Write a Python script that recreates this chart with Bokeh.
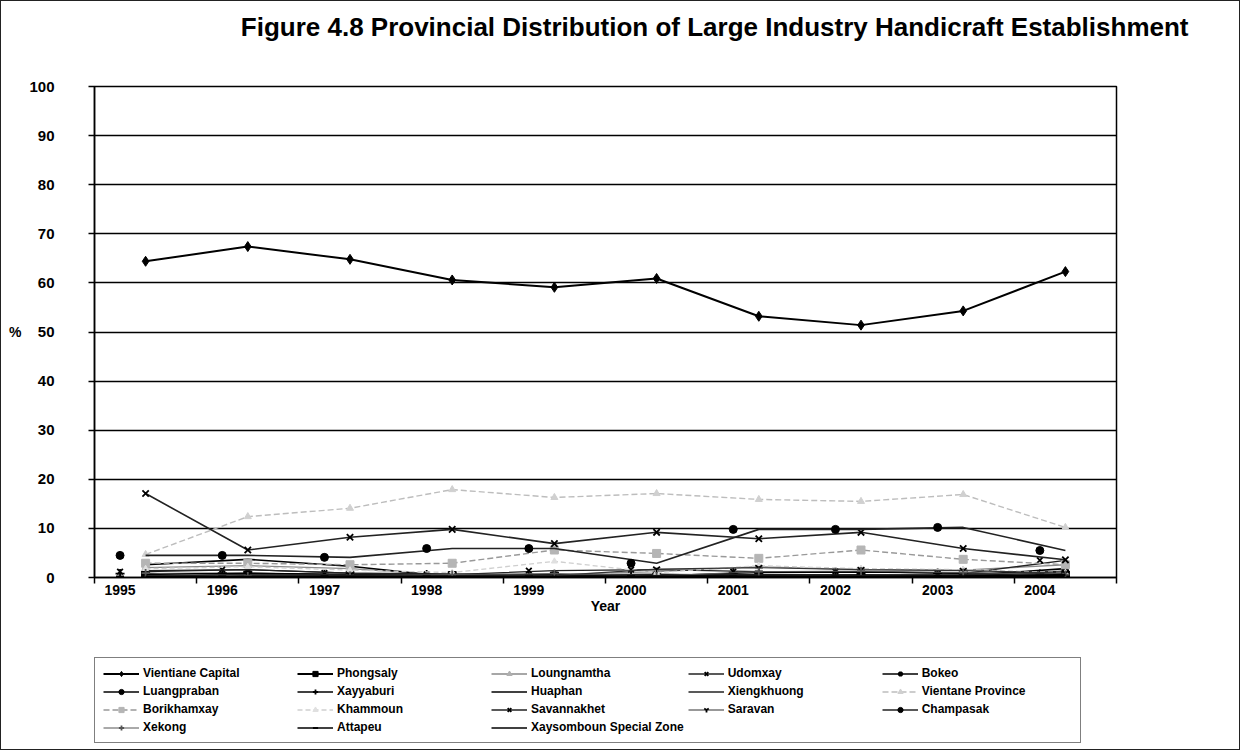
from bokeh.plotting import figure
from bokeh.layouts import column
from bokeh.models import Range1d, FixedTicker, Legend, LegendItem, Title
from bokeh.embed import file_html
from bokeh.resources import INLINE

# Share of large handicraft establishments by province (%), 1995-2004
years = ["1995", "1996", "1997", "1998", "1999", "2000", "2001", "2002", "2003", "2004"]

vientiane_capital = [64.4, 67.4, 64.8, 60.6, 59.1, 60.9, 53.2, 51.4, 54.3, 62.3]
phongsaly = [0.5, 0.5, 0.4, 0.4, 0.3, 0.4, 0.5, 0.4, 0.4, 0.5]
loungnamtha = [2.0, 2.4, 1.8, 0.4, 0.6, 1.2, 2.2, 1.6, 1.5, 2.6]
udomxay = [1.2, 1.6, 0.9, 0.6, 1.4, 1.6, 1.2, 1.2, 0.8, 3.5]
bokeo = [0.2, 0.3, 0.3, 0.2, 0.3, 0.2, 0.3, 0.2, 0.3, 0.2]
luangpraban = [0.6, 0.8, 0.6, 0.3, 0.5, 0.6, 0.4, 0.5, 0.4, 1.2]
xayyaburi = [0.8, 0.9, 0.6, 0.6, 0.6, 0.4, 1.0, 1.1, 0.9, 0.7]
huaphan = [2.6, 3.7, 2.3, 0.1, 0.3, 0.4, 0.3, 0.3, 0.4, 1.8]
xiengkhuong = [1.4, 1.6, 0.9, 0.7, 0.5, 0.6, 0.5, 0.4, 0.5, 1.3]
vientane_province = [4.7, 12.4, 14.1, 17.9, 16.3, 17.1, 15.9, 15.5, 16.9, 10.2]
borikhamxay = [2.9, 2.9, 2.6, 2.9, 5.6, 4.9, 3.9, 5.6, 3.7, 2.6]
khammoun = [1.8, 2.2, 1.5, 1.0, 3.3, 1.0, 2.4, 1.8, 1.6, 1.0]
savannakhet = [17.1, 5.6, 8.2, 9.8, 6.9, 9.2, 7.9, 9.2, 5.9, 3.6]
saravan = [0.4, 0.6, 0.5, 0.3, 0.4, 1.7, 2.0, 1.6, 1.4, 0.9]
champasak = [4.5, 4.5, 4.1, 5.9, 5.9, 2.9, 9.8, 9.8, 10.2, 5.5]
xekong = [0.9, 0.3, 0.4, 0.6, 0.8, 0.3, 1.2, 1.3, 1.0, 0.6]
attapeu = [0.2, 0.2, 0.3, 0.2, 0.2, 0.3, 0.2, 0.2, 0.3, 0.4]
xaysomboun = [0.1, 0.1, 0.1, 0.1, 0.1, 0.1, 0.1, 0.1, 0.1, 0.6]

y_ticks = [0, 10, 20, 30, 40, 50, 60, 70, 80, 90, 100]

FONT = "Liberation Sans"

# each year occupies one unit; lines sit mid-slot, labels (and some markers) sit left of it
x_mid = [i + 0.5 for i in range(len(years))]
x_left = [i + 0.25 for i in range(len(years))]

W = 1238
H_MAIN = 628     # chart with its axes
H_KEY = 120      # strip holding the key
LEFT, RIGHT = 93, 1115

p = figure(width=W, height=H_MAIN, output_backend="svg", toolbar_location=None,
           x_range=Range1d(0, len(years)), y_range=Range1d(0, 100),
           min_border_left=LEFT, min_border_right=W - RIGHT,
           min_border_top=85, min_border_bottom=H_MAIN - 576,
           background_fill_color="white", border_fill_color="white")
p.outline_line_color = "black"
p.outline_line_width = 1.5

# empty spacer title keeps the real title up near the top edge
p.add_layout(Title(text=" ", text_font_size="10px", standoff=32), "above")
p.add_layout(Title(text="Figure 4.8 Provincial Distribution of Large Industry Handicraft Establishment",
                   align="right", offset=-72, standoff=0,
                   text_font=FONT, text_font_size="26px", text_font_style="bold",
                   text_color="black"), "above")

# axes
p.yaxis.ticker = FixedTicker(ticks=y_ticks)
p.yaxis.axis_label = "%"
p.yaxis.axis_label_orientation = "horizontal"
p.yaxis.axis_label_standoff = 5
p.yaxis.axis_label_text_font = FONT
p.yaxis.axis_label_text_font_size = "14px"
p.yaxis.axis_label_text_font_style = "bold"
p.yaxis.axis_label_text_color = "black"
p.yaxis.major_label_text_font = FONT
p.yaxis.major_label_text_font_size = "15px"
p.yaxis.major_label_text_font_style = "bold"
p.yaxis.major_label_text_color = "black"
p.yaxis.major_label_standoff = 34
p.yaxis.major_tick_out = 6
p.yaxis.major_tick_in = 0
p.yaxis.minor_tick_line_color = None
p.yaxis.axis_line_width = 1.5
p.yaxis.major_tick_line_width = 1.5

p.xaxis.ticker = FixedTicker(ticks=x_left, minor_ticks=list(range(len(years) + 1)))
p.xaxis.major_label_overrides = {x: y for x, y in zip(x_left, years)}
p.xaxis.major_tick_line_color = None
p.xaxis.major_tick_out = 0
p.xaxis.major_tick_in = 0
p.xaxis.minor_tick_out = 6
p.xaxis.minor_tick_in = 0
p.xaxis.minor_tick_line_width = 1.5
p.xaxis.axis_line_width = 1.5
p.xaxis.major_label_standoff = 1
p.xaxis.major_label_text_font = FONT
p.xaxis.major_label_text_font_size = "14px"
p.xaxis.major_label_text_font_style = "bold"
p.xaxis.major_label_text_color = "black"
p.xaxis.axis_label = "Year"
p.xaxis.axis_label_standoff = 0
p.xaxis.axis_label_text_font = FONT
p.xaxis.axis_label_text_font_size = "14px"
p.xaxis.axis_label_text_font_style = "bold"
p.xaxis.axis_label_text_color = "black"

p.xgrid.grid_line_color = None
p.ygrid.ticker = FixedTicker(ticks=y_ticks[1:])
p.ygrid.grid_line_color = "black"
p.ygrid.grid_line_width = 1.3

# key strip under the chart (its frame lines up with the chart's frame)
k = figure(width=W, height=H_KEY, output_backend="svg", toolbar_location=None,
           x_range=Range1d(0, 1), y_range=Range1d(0, 1),
           min_border_left=LEFT, min_border_right=W - RIGHT,
           min_border_top=28, min_border_bottom=2,
           background_fill_color="white", border_fill_color="white")
k.axis.visible = False
k.grid.grid_line_color = None
k.outline_line_color = None

# (name, values, line colour, line width, dash, marker, marker size, marker fill, marker shifted left)
series = [
    ("Vientiane Capital", vientiane_capital, "black", 2.0, "solid", "diamond", 10, "black", False),
    ("Phongsaly", phongsaly, "black", 2.0, "solid", "square", 8, "black", False),
    ("Loungnamtha", loungnamtha, "#8a8a8a", 1.3, "solid", "triangle", 7, "#b0b0b0", False),
    ("Udomxay", udomxay, "#222222", 1.3, "solid", "x", 8, "black", True),
    ("Bokeo", bokeo, "black", 1.6, "solid", "asterisk", 9, "black", False),
    ("Luangpraban", luangpraban, "black", 1.6, "solid", "circle", 7, "black", False),
    ("Xayyaburi", xayyaburi, "black", 1.3, "solid", "cross", 9, "black", True),
    ("Huaphan", huaphan, "black", 1.6, "solid", None, 0, None, False),
    ("Xiengkhuong", xiengkhuong, "#222222", 1.4, "solid", None, 0, None, False),
    ("Vientane Province", vientane_province, "#bdbdbd", 1.4, "6 3", "triangle", 7, "#d0d0d0", False),
    ("Borikhamxay", borikhamxay, "#999999", 1.4, "6 3", "square", 8, "#b5b5b5", False),
    ("Khammoun", khammoun, "#cfcfcf", 1.3, "5 3", "triangle", 6, "#e0e0e0", False),
    ("Savannakhet", savannakhet, "#222222", 1.6, "solid", "x", 9, "black", False),
    ("Saravan", saravan, "#333333", 1.2, "solid", "y", 8, "black", False),
    ("Champasak", champasak, "#222222", 1.6, "solid", "circle", 8, "black", True),
    ("Xekong", xekong, "#555555", 1.0, "solid", "cross", 8, "#555555", False),
    ("Attapeu", attapeu, "black", 1.6, "solid", "dash", 8, "black", True),
    ("Xaysomboun Special Zone", xaysomboun, "black", 1.6, "solid", None, 0, None, False),
]

items = []
for name, vals, color, lw, dash, marker, size, mfill, shifted in series:
    mlw = 1.8 if marker in ("x", "cross", "asterisk", "y", "dash") else 1
    p.line(x_mid, vals, line_color=color, line_width=lw, line_dash=dash)
    # key samples share the series' styling; their single point sits off-frame
    krs = [k.line([-1, -2], [-1, -1], line_color=color, line_width=lw, line_dash=dash)]
    if marker:
        xs = x_left if shifted else x_mid
        p.scatter(xs, vals, marker=marker, size=size, fill_color=mfill,
                  line_color=mfill, line_width=mlw)
        krs.append(k.scatter([-1], [-1], marker=marker, size=size, fill_color=mfill,
                             line_color=mfill, line_width=mlw))
    items.append(LegendItem(label=name, renderers=krs))

legend = Legend(items=items, orientation="horizontal", ncols=5,
                location="top_left",
                label_text_font=FONT, label_text_font_size="12px", label_text_font_style="bold",
                label_text_color="black",
                glyph_width=36, glyph_height=13, label_height=13, label_width=150,
                label_standoff=4, spacing=4, padding=8, margin=0,
                border_line_color="black", border_line_width=1.5,
                background_fill_color="white", background_fill_alpha=1.0)
k.add_layout(legend, "center")

page = column(p, k, spacing=0, styles={"border": "1.5px solid #222"})
open("out.html", "w").write(file_html(page, INLINE))
